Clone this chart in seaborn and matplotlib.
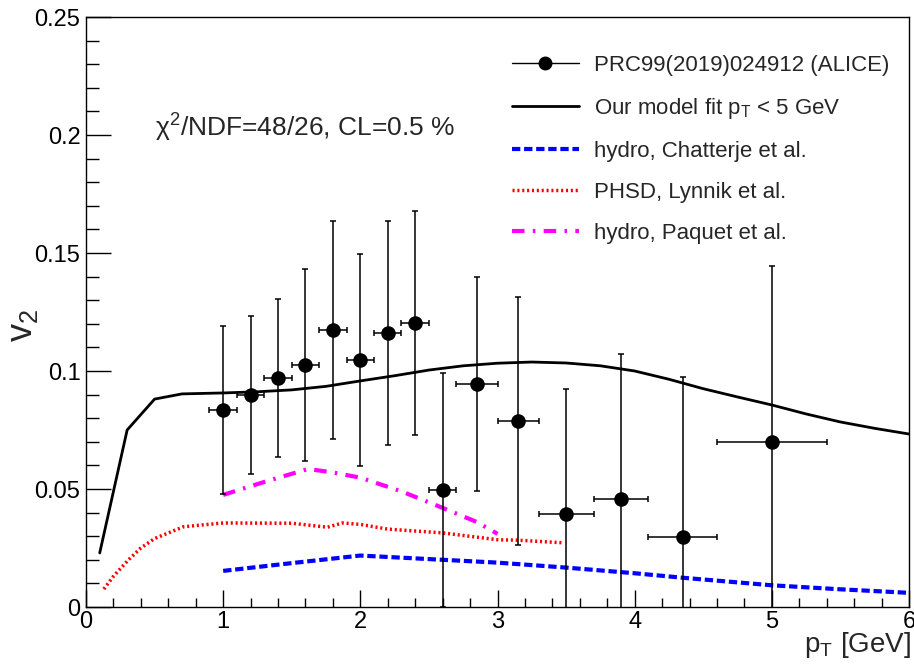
import numpy as np
import pandas as pd
import matplotlib
matplotlib.use("Agg")
import matplotlib.pyplot as plt
import seaborn as sns
from matplotlib.lines import Line2D
from matplotlib.ticker import MultipleLocator, FuncFormatter

# ---- data ----
alice_pt = [1.0, 1.2, 1.4, 1.6, 1.8, 2.0, 2.2, 2.4, 2.6, 2.85, 3.15, 3.5, 3.9, 4.35, 5.0]
alice_v2 = [0.0835, 0.0898, 0.0970, 0.1025, 0.1174, 0.1047, 0.1161, 0.1203, 0.0496, 0.0945, 0.0788, 0.0394, 0.0458, 0.0297, 0.0699]
alice_err = [0.0355, 0.0335, 0.0335, 0.0407, 0.0462, 0.0449, 0.0475, 0.0475, 0.0496, 0.0453, 0.0526, 0.0530, 0.0614, 0.0678, 0.0746]
alice_xerr = [0.1, 0.1, 0.1, 0.1, 0.1, 0.1, 0.1, 0.1, 0.1, 0.15, 0.15, 0.2, 0.2, 0.25, 0.4]

model_pt = [0.1, 0.3, 0.5, 0.7, 1.0, 1.25, 1.5, 1.75, 2.0, 2.25, 2.5, 2.75, 3.0, 3.25, 3.5, 3.75,
            4.0, 4.25, 4.5, 4.75, 5.0, 5.25, 5.5, 5.75, 6.0]
model_v2 = [0.0229, 0.0750, 0.0881, 0.0903, 0.0907, 0.0912, 0.0920, 0.0935, 0.0958, 0.0980, 0.1004,
            0.1022, 0.1033, 0.1038, 0.1034, 0.1022, 0.1000, 0.0965, 0.0925, 0.0890, 0.0856, 0.0818,
            0.0784, 0.0757, 0.0733]

chat_pt = [1.0, 1.5, 2.0, 2.6, 3.0, 3.5, 4.0, 4.35, 5.0, 5.5, 6.0]
chat_v2 = [0.0153, 0.0186, 0.0218, 0.0200, 0.0188, 0.0167, 0.0143, 0.0124, 0.0092, 0.0075, 0.0060]

phsd_pt = [0.13, 0.2, 0.31, 0.4, 0.5, 0.71, 1.0, 1.5, 1.76, 1.87, 2.0, 2.2, 2.6, 3.0, 3.15, 3.48]
phsd_v2 = [0.0076, 0.0130, 0.0200, 0.0250, 0.0290, 0.0340, 0.0356, 0.0355, 0.0338, 0.0356, 0.0350,
           0.0330, 0.0314, 0.0285, 0.0283, 0.0272]

paq_pt = [1.0, 1.3, 1.62, 1.8, 2.0, 2.3, 2.6, 2.85, 3.0]
paq_v2 = [0.0475, 0.0530, 0.0585, 0.0570, 0.0548, 0.0490, 0.0420, 0.0360, 0.0310]

labels = ["PRC99(2019)024912 (ALICE)", "Our model fit p$_{\\mathrm{T}}$ < 5 GeV",
          "hydro, Chatterje et al.", "PHSD, Lynnik et al.", "hydro, Paquet et al."]
chi_text = "χ$^{2}$/NDF=48/26, CL=0.5 %"

# ---- style ----
sns.set_theme(style="white")
plt.rcParams["font.family"] = ["Liberation Sans", "DejaVu Sans"]
plt.rcParams["mathtext.fontset"] = "custom"
plt.rcParams["mathtext.rm"] = "Liberation Sans"
plt.rcParams["mathtext.it"] = "Liberation Sans:italic"
plt.rcParams["mathtext.default"] = "regular"

fig = plt.figure(figsize=(9.14, 6.64), dpi=100)
ax = fig.add_axes([86/914, 1-607/664, (909-86)/914, (607-17)/664])

df_alice = pd.DataFrame({"pt": alice_pt, "v2": alice_v2})
df_model = pd.DataFrame({"pt": model_pt, "v2": model_v2})
df_chat = pd.DataFrame({"pt": chat_pt, "v2": chat_v2})
df_phsd = pd.DataFrame({"pt": phsd_pt, "v2": phsd_v2})
df_paq = pd.DataFrame({"pt": paq_pt, "v2": paq_v2})

blue_ls = (0, (2.0, 0.9))
red_ls = (0, (0.6, 0.8))
mag_ls = (0, (3.0, 2.0, 0.6, 2.0))

sns.lineplot(data=df_model, x="pt", y="v2", ax=ax, color="black", lw=2.0, sort=False, estimator=None)
sns.lineplot(data=df_chat, x="pt", y="v2", ax=ax, color="#0000ff", lw=3.0, sort=False, estimator=None,
             linestyle=blue_ls)
sns.lineplot(data=df_phsd, x="pt", y="v2", ax=ax, color="#ff0000", lw=2.5, sort=False, estimator=None,
             linestyle=red_ls)
sns.lineplot(data=df_paq, x="pt", y="v2", ax=ax, color="#ff00ff", lw=3.0, sort=False, estimator=None,
             linestyle=mag_ls)

ax.errorbar(alice_pt, alice_v2, yerr=alice_err, xerr=alice_xerr, fmt="none", ecolor="black",
            elinewidth=1.1, capsize=2, capthick=1.1, zorder=4)
sns.scatterplot(data=df_alice, x="pt", y="v2", ax=ax, color="black", s=110, edgecolor="black",
                linewidth=0, zorder=5)

ax.set_xlim(0, 6)
ax.set_ylim(0, 0.25)

for s in ax.spines.values():
    s.set_color("black")
    s.set_linewidth(1.0)

ax.xaxis.set_major_locator(MultipleLocator(1))
ax.xaxis.set_minor_locator(MultipleLocator(0.2))
ax.yaxis.set_major_locator(MultipleLocator(0.05))
ax.yaxis.set_minor_locator(MultipleLocator(0.01))
ax.tick_params(axis="both", which="both", direction="in", top=False, right=False,
               bottom=True, left=True, colors="black", labelsize=17)
ax.tick_params(axis="x", which="major", length=12.2, width=1.0, pad=3)
ax.tick_params(axis="x", which="minor", length=6.5, width=1.0)
ax.tick_params(axis="y", which="major", length=18, width=1.0, pad=4)
ax.tick_params(axis="y", which="minor", length=9.4, width=1.0)
ax.yaxis.set_major_formatter(FuncFormatter(lambda v, p: "0" if abs(v) < 1e-9 else f"{v:g}"))
ax.xaxis.set_major_formatter(FuncFormatter(lambda v, p: f"{v:g}"))

ax.set_xlabel("")
ax.set_ylabel("")
fig.text(22/914, 1-325/664, "v$_2$", fontsize=26, rotation=90, ha="center", va="center")
fig.text(911/914, 1-645/664, "p$_T$ [GeV]", fontsize=20, ha="right", va="center")

ax.text(0.5, 0.203, chi_text, fontsize=19, ha="left", va="center")

handles = [
    Line2D([], [], color="black", lw=1.0, marker="o", markersize=9),
    Line2D([], [], color="black", lw=2.0),
    Line2D([], [], color="#0000ff", lw=3.0, linestyle=blue_ls),
    Line2D([], [], color="#ff0000", lw=2.5, linestyle=red_ls),
    Line2D([], [], color="#ff00ff", lw=3.0, linestyle=mag_ls),
]
leg = ax.legend(handles, labels, loc="upper left", bbox_to_anchor=((503-86)/823, 1-(46-17)/590),
                frameon=False, fontsize=16, handlelength=3.0, handletextpad=0.7,
                labelspacing=0.9, borderaxespad=0)

fig.savefig("out.png", dpi=100)
